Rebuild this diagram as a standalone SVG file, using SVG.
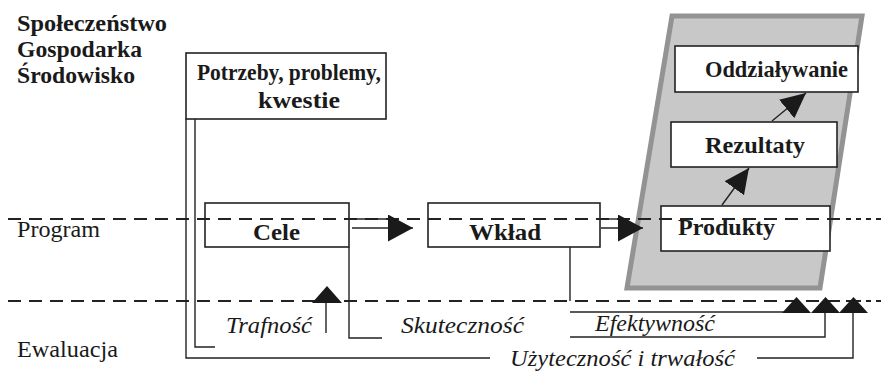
<svg xmlns="http://www.w3.org/2000/svg" width="886" height="373" viewBox="0 0 886 373">
<defs>
<marker id="big" markerUnits="userSpaceOnUse" markerWidth="26" markerHeight="28" refX="25" refY="13.5" orient="auto">
<path d="M0,0 L25,13.5 L0,27 z" fill="#1a1a1a"/>
</marker>
<marker id="mid" markerUnits="userSpaceOnUse" markerWidth="26" markerHeight="26" refX="25" refY="12" orient="auto">
<path d="M0,0 L25,12 L0,24 z" fill="#1a1a1a"/>
</marker>
</defs>

<g id="context-labels" font-family="Liberation Serif, serif" font-size="24" fill="#1a1a1a">
<text x="17" y="31" font-weight="bold" textLength="150" lengthAdjust="spacingAndGlyphs">Społeczeństwo</text>
<text x="17" y="57" font-weight="bold" textLength="125" lengthAdjust="spacingAndGlyphs">Gospodarka</text>
<text x="17" y="83" font-weight="bold" textLength="118" lengthAdjust="spacingAndGlyphs">Środowisko</text>
<text x="17" y="237" textLength="83" lengthAdjust="spacingAndGlyphs">Program</text>
<text x="17" y="357" textLength="101" lengthAdjust="spacingAndGlyphs">Ewaluacja</text>
</g>

<g id="effects-area">
<polygon points="672,16 862,16 820,288 627,288" fill="#c8c8c8" stroke="#939393" stroke-width="5"/>
</g>

<g id="boxes" fill="#fff" stroke="#222" stroke-width="1.6">
<g id="potrzeby">
<rect x="186" y="53" width="200" height="66"/>
<text x="197" y="80" font-family="Liberation Serif, serif" font-size="24" font-weight="bold" fill="#1a1a1a" stroke="none" textLength="184" lengthAdjust="spacingAndGlyphs">Potrzeby, problemy,</text>
<text x="258" y="108" font-family="Liberation Serif, serif" font-size="24" font-weight="bold" fill="#1a1a1a" stroke="none" textLength="82" lengthAdjust="spacingAndGlyphs">kwestie</text>
</g>
<g id="cele">
<rect x="205" y="203" width="144" height="44"/>
<text x="253" y="240" font-family="Liberation Serif, serif" font-size="24" font-weight="bold" fill="#1a1a1a" stroke="none" textLength="47" lengthAdjust="spacingAndGlyphs">Cele</text>
</g>
<g id="wklad">
<rect x="428" y="203" width="172" height="44"/>
<text x="469" y="240" font-family="Liberation Serif, serif" font-size="24" font-weight="bold" fill="#1a1a1a" stroke="none" textLength="72" lengthAdjust="spacingAndGlyphs">Wkład</text>
</g>
<g id="produkty">
<rect x="661" y="206" width="169" height="45"/>
<text x="678" y="235" font-family="Liberation Serif, serif" font-size="24" font-weight="bold" fill="#1a1a1a" stroke="none" textLength="97" lengthAdjust="spacingAndGlyphs">Produkty</text>
</g>
<g id="rezultaty">
<rect x="671" y="122" width="166" height="45"/>
<text x="705" y="153" font-family="Liberation Serif, serif" font-size="24" font-weight="bold" fill="#1a1a1a" stroke="none" textLength="100" lengthAdjust="spacingAndGlyphs">Rezultaty</text>
</g>
<g id="oddzialywanie">
<rect x="675" y="46" width="183" height="46"/>
<text x="705" y="77" font-family="Liberation Serif, serif" font-size="24" font-weight="bold" fill="#1a1a1a" stroke="none" textLength="143" lengthAdjust="spacingAndGlyphs">Oddziaływanie</text>
</g>
</g>

<g id="levels" stroke="#222" stroke-width="2" fill="none">
<line x1="8" y1="219" x2="842" y2="219" stroke-dasharray="13 8"/>
<line x1="846" y1="219" x2="886" y2="219" stroke-dasharray="5 5"/>
<line x1="8" y1="301" x2="842" y2="301" stroke-dasharray="13 8"/>
<line x1="846" y1="301" x2="886" y2="301" stroke-dasharray="5 5"/>
</g>

<g id="connectors" stroke="#222" stroke-width="1.4" fill="none">
<line x1="352" y1="219" x2="390" y2="219"/>
<line x1="352" y1="228" x2="413" y2="228" marker-end="url(#big)"/>
<line x1="601" y1="219" x2="620" y2="219"/>
<line x1="601" y1="228" x2="643" y2="228" marker-end="url(#big)"/>
<line x1="722" y1="205" x2="749" y2="168" marker-end="url(#mid)"/>
<line x1="772" y1="121" x2="806" y2="93" marker-end="url(#mid)"/>
<polyline points="186,119 186,358 490,358"/>
<polyline points="195,119 195,347 215,347"/>
<polyline points="326,333 326,300"/>
<polyline points="349,247 349,338 382,338"/>
<polyline points="570,247 570,301"/>
<polyline points="570,312 790,312"/>
<polyline points="570,337 825,337 825,312"/>
<polyline points="757,358 853,358 853,312"/>
<g fill="#1a1a1a" stroke="none">
<polygon points="312,303 327,286 342,303"/>
<polygon points="782,313 796.5,297 811,313"/>
<polygon points="811,313 825.5,297 840,313"/>
<polygon points="839,313 853.5,297 868,313"/>
</g>
</g>

<g id="criteria" font-family="Liberation Serif, serif" font-size="24" font-style="italic" fill="#1a1a1a">
<text x="226" y="333" textLength="86" lengthAdjust="spacingAndGlyphs">Trafność</text>
<text x="401" y="333" textLength="123" lengthAdjust="spacingAndGlyphs">Skuteczność</text>
<text x="595" y="331" textLength="120" lengthAdjust="spacingAndGlyphs">Efektywność</text>
<text x="510" y="366" textLength="225" lengthAdjust="spacingAndGlyphs">Użyteczność i trwałość</text>
</g>
</svg>
